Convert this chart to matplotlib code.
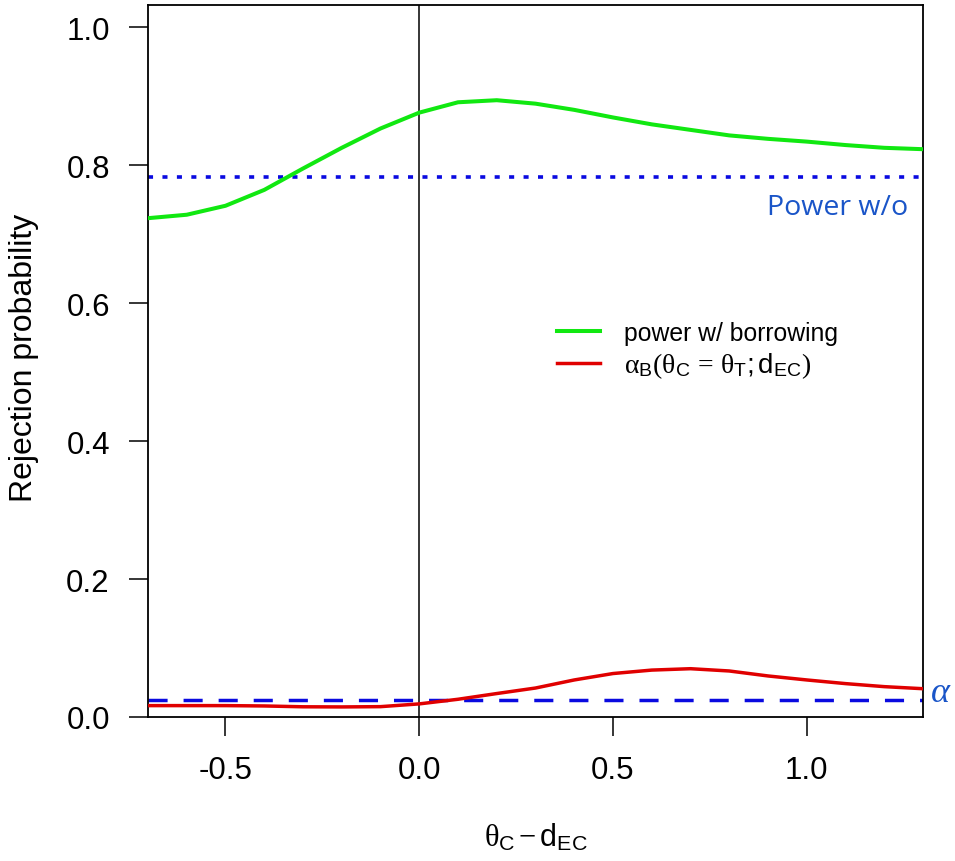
import matplotlib
matplotlib.use("Agg")
import matplotlib.pyplot as plt

plt.rcParams['font.family'] = ['Liberation Sans', 'DejaVu Sans']
plt.rcParams['mathtext.fontset'] = 'custom'
plt.rcParams['mathtext.rm'] = 'Liberation Serif'
plt.rcParams['mathtext.sf'] = 'Liberation Sans'
plt.rcParams['mathtext.it'] = 'Liberation Serif:italic'

# shift between control mean and external-control drift
shift = [-0.7, -0.6, -0.5, -0.4, -0.3, -0.2, -0.1, 0.0, 0.1, 0.2, 0.3,
         0.4, 0.5, 0.6, 0.7, 0.8, 0.9, 1.0, 1.1, 1.2, 1.3]
power_borrow = [0.723, 0.728, 0.741, 0.764, 0.795, 0.825, 0.853, 0.876, 0.891,
                0.894, 0.889, 0.880, 0.869, 0.859, 0.851, 0.843, 0.838, 0.834,
                0.829, 0.825, 0.823]
alpha_borrow = [0.0165, 0.0165, 0.0165, 0.016, 0.0148, 0.0146, 0.0150, 0.019,
                0.0257, 0.034, 0.042, 0.0537, 0.063, 0.068, 0.070, 0.0667,
                0.0595, 0.0537, 0.0484, 0.044, 0.041]
power_without = 0.782
alpha_level = 0.025

xtick_vals = [-0.5, 0.0, 0.5, 1.0]
xtick_labels = ['-0.5', '0.0', '0.5', '1.0']
ytick_vals = [0.0, 0.2, 0.4, 0.6, 0.8, 1.0]
ytick_labels = ['0.0', '0.2', '0.4', '0.6', '0.8', '1.0']

W, H = 955, 862
fig = plt.figure(figsize=(W / 100, H / 100), dpi=100)
ax = fig.add_axes([148 / W, 1 - 718 / H, (923 - 148) / W, (718 - 6) / H])

ax.axvline(0.0, color='black', lw=1.1, zorder=1)
ax.axhline(power_without, color='#0a0ae0', lw=2.6, linestyle=(0, (1.4, 2.6)), zorder=2)
ax.axhline(alpha_level, color='#0a0ae0', lw=2.5, linestyle=(0, (5.5, 4.6)), zorder=2)

ax.plot(shift, power_borrow, color='#11e811', lw=2.9, solid_joinstyle='round',
        label='power w/ borrowing', zorder=3)
ax.plot(shift, alpha_borrow, color='#e00000', lw=2.5, solid_joinstyle='round',
        label=r'$\mathrm{\alpha}_{\mathsf{B}}\mathrm{(\theta}_{\mathsf{C}}\,\mathrm{=}\,'
              r'\mathrm{\theta}_{\mathsf{T}}\mathsf{;d}_{\mathsf{EC}}\mathrm{)}$',
        zorder=3)

ax.set_xlim(-0.7, 1.3)
ax.set_ylim(0.0, 1.032)
ax.set_xticks(xtick_vals)
ax.set_xticklabels(xtick_labels)
ax.set_yticks(ytick_vals)
ax.set_yticklabels(ytick_labels)
ax.tick_params(axis='both', direction='out', length=13.5, width=1.1,
               labelsize=22.5, pad=14, colors='black')
for s in ax.spines.values():
    s.set_linewidth(1.3)

fig.text(24 / W, 1 - 358 / H, 'Rejection probability', fontsize=23,
         rotation=90, ha='center', va='center')
fig.text(535.5 / W, 1 - 838 / H,
         r'$\mathrm{\theta}_{\mathsf{C}}\,\mathrm{-}\,\mathsf{d}_{\mathsf{EC}}$',
         fontsize=22, ha='center', va='center')

ax.text(1.262, 0.739, 'Power w/o', fontsize=20.5, color='#1a55c8',
        family=['Open Sans', 'DejaVu Sans'], ha='right', va='center')
fig.text(941 / W, 1 - 693 / H, r'$\alpha$', fontsize=26, color='#1a55c8',
         ha='center', va='center')

leg = ax.legend(loc='upper left', bbox_to_anchor=(557 / W, 1 - 322 / H),
                bbox_transform=fig.transFigure, frameon=False, fontsize=17.8,
                handlelength=1.75, handletextpad=0.95, labelspacing=0.2,
                borderpad=0, borderaxespad=0)
leg.get_texts()[1].set_fontsize(20)

fig.savefig('out.png', dpi=100)
